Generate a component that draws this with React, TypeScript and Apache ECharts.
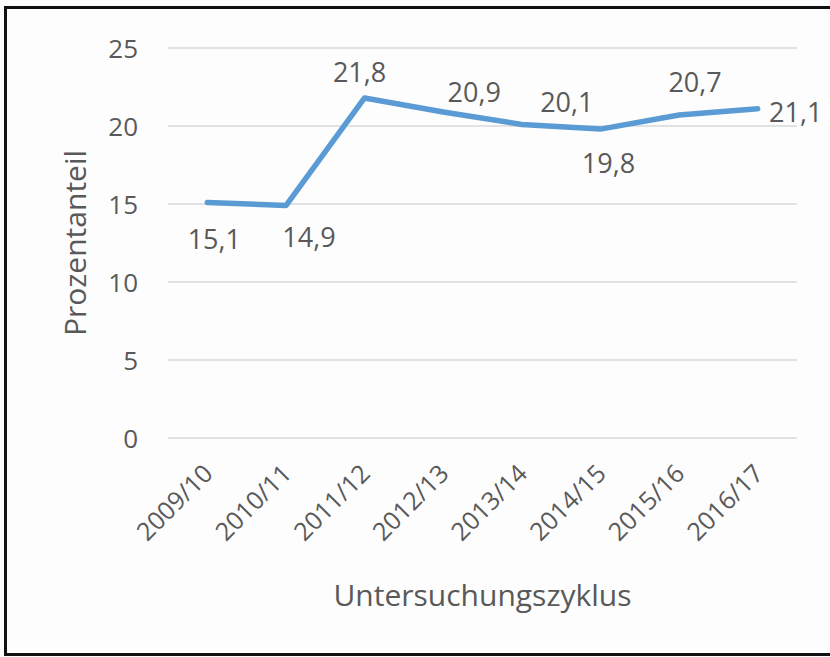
import React, { useEffect, useRef } from "react";
import * as echarts from "echarts";

const categories = ["2009/10", "2010/11", "2011/12", "2012/13", "2013/14", "2014/15", "2015/16", "2016/17"];
const values = [15.1, 14.9, 21.8, 20.9, 20.1, 19.8, 20.7, 21.1];
const yTicks = { min: 0, max: 25, interval: 5 };
// label offsets (px) relative to each point, as placed in the original
const labelOffsets = [
  [7, 36],
  [23, 31],
  [-5, -26],
  [31, -20],
  [45, -23],
  [8, 33],
  [16, -34],
  [38, 3],
];

const FONT = "'Open Sans', 'Noto Sans', sans-serif";
const GREY = "#595959";

export default function App() {
  const ref = useRef<HTMLDivElement>(null);
  useEffect(() => {
    const chart = echarts.init(ref.current!, null, { renderer: "svg" });
    chart.setOption({
      animation: false,
      backgroundColor: "transparent",
      grid: { left: 168, right: 33, top: 48, bottom: 219, containLabel: false },
      xAxis: {
        type: "category",
        data: categories,
        boundaryGap: true,
        axisLine: { show: false },
        axisTick: { show: false },
        axisLabel: { rotate: 45, color: GREY, fontSize: 25, fontFamily: FONT, margin: 30, interval: 0 },
        name: "Untersuchungszyklus",
        nameLocation: "middle",
        nameGap: 141,
        nameTextStyle: { color: GREY, fontSize: 30, fontFamily: FONT },
      },
      yAxis: {
        type: "value",
        min: yTicks.min,
        max: yTicks.max,
        interval: yTicks.interval,
        axisLine: { show: false },
        axisTick: { show: false },
        splitLine: { lineStyle: { color: "#d9d9d9", width: 1.5 } },
        axisLabel: { color: GREY, fontSize: 26, fontFamily: FONT, margin: 30 },
        name: "Prozentanteil",
        nameLocation: "middle",
        nameGap: 79,
        nameTextStyle: { color: GREY, fontSize: 30, fontFamily: FONT },
      },
      series: [
        {
          type: "line",
          data: values.map((v, i) => ({
            value: v,
            label: { offset: labelOffsets[i] },
          })),
          showSymbol: true,
          symbol: "circle",
          symbolSize: 2,
          itemStyle: { color: "#5b9bd5" },
          lineStyle: { color: "#5b9bd5", width: 5.5, cap: "round", join: "round" },
          label: {
            show: true,
            position: "inside",
            color: GREY,
            fontSize: 27,
            fontFamily: FONT,
            formatter: (p: any) => String(p.value).replace(".", ","),
          },
        },
      ],
    });
    return () => chart.dispose();
  }, []);
  return (
    <div style={{ position: "fixed", left: 0, top: 0, width: 830, height: 657, background: "#fdfdfd", overflow: "hidden" }}>
      <div
        style={{
          position: "absolute",
          left: 4,
          top: 6,
          width: 840,
          height: 650,
          border: "3px solid #111",
          boxSizing: "border-box",
        }}
      />
      <div ref={ref} style={{ position: "absolute", left: 0, top: 0, width: 830, height: 657 }} />
    </div>
  );
}
